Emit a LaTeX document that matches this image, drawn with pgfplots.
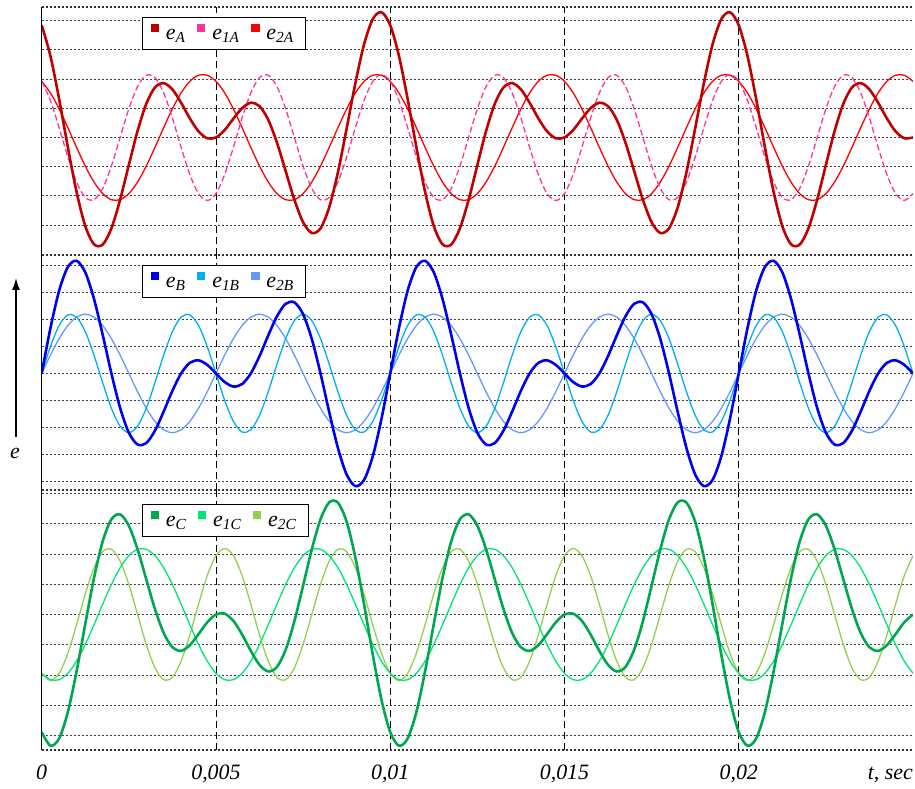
\documentclass[border=0pt]{standalone}
\usepackage{fontspec}
\setmainfont{Liberation Serif}
\usepackage{pgfplots}
\pgfplotsset{compat=1.18}
\usepackage{pgfplotstable}
\usetikzlibrary{arrows.meta}

\definecolor{cA}{HTML}{C00000}
\definecolor{cA1}{HTML}{FF3399}
\definecolor{cA2}{HTML}{FF0000}
\definecolor{cB}{HTML}{0000F0}
\definecolor{cB1}{HTML}{00B0F0}
\definecolor{cB2}{HTML}{6699FF}
\definecolor{cC}{HTML}{00A650}
\definecolor{cC1}{HTML}{00E676}
\definecolor{cC2}{HTML}{92D050}

% t in ms; e = e1 + e2
\pgfplotstableread{
t e e1 e2
0 1.782 0.891 0.891
0.25 1.295 0.588 0.707
0.5 0.610 0.156 0.454
0.75 -0.153 -0.309 0.156
1 -0.863 -0.707 -0.156
1.25 -1.405 -0.951 -0.454
1.5 -1.695 -0.988 -0.707
1.75 -1.700 -0.809 -0.891
2 -1.442 -0.454 -0.988
2.25 -0.988 0 -0.988
2.5 -0.437 0.454 -0.891
2.75 0.102 0.809 -0.707
3 0.534 0.988 -0.454
3.25 0.795 0.951 -0.156
3.5 0.863 0.707 0.156
3.75 0.763 0.309 0.454
4 0.551 -0.156 0.707
4.25 0.303 -0.588 0.891
4.5 0.097 -0.891 0.988
4.75 -0.012 -1 0.988
5 0 -0.891 0.891
5.25 0.119 -0.588 0.707
5.5 0.298 -0.156 0.454
5.75 0.465 0.309 0.156
6 0.551 0.707 -0.156
6.25 0.497 0.951 -0.454
6.5 0.281 0.988 -0.707
6.75 -0.082 0.809 -0.891
7 -0.534 0.454 -0.988
7.25 -0.988 0 -0.988
7.5 -1.345 -0.454 -0.891
7.75 -1.516 -0.809 -0.707
8 -1.442 -0.988 -0.454
8.25 -1.107 -0.951 -0.156
8.5 -0.551 -0.707 0.156
8.75 0.145 -0.309 0.454
9 0.863 0.156 0.707
9.25 1.479 0.588 0.891
9.5 1.879 0.891 0.988
9.75 1.988 1 0.988
10 1.782 0.891 0.891
10.25 1.295 0.588 0.707
10.5 0.610 0.156 0.454
10.75 -0.153 -0.309 0.156
11 -0.863 -0.707 -0.156
11.25 -1.405 -0.951 -0.454
11.5 -1.695 -0.988 -0.707
11.75 -1.700 -0.809 -0.891
12 -1.442 -0.454 -0.988
12.25 -0.988 0 -0.988
12.5 -0.437 0.454 -0.891
12.75 0.102 0.809 -0.707
13 0.534 0.988 -0.454
13.25 0.795 0.951 -0.156
13.5 0.863 0.707 0.156
13.75 0.763 0.309 0.454
14 0.551 -0.156 0.707
14.25 0.303 -0.588 0.891
14.5 0.097 -0.891 0.988
14.75 -0.012 -1 0.988
15 0 -0.891 0.891
15.25 0.119 -0.588 0.707
15.5 0.298 -0.156 0.454
15.75 0.465 0.309 0.156
16 0.551 0.707 -0.156
16.25 0.497 0.951 -0.454
16.5 0.281 0.988 -0.707
16.75 -0.082 0.809 -0.891
17 -0.534 0.454 -0.988
17.25 -0.988 0 -0.988
17.5 -1.345 -0.454 -0.891
17.75 -1.516 -0.809 -0.707
18 -1.442 -0.988 -0.454
18.25 -1.107 -0.951 -0.156
18.5 -0.551 -0.707 0.156
18.75 0.145 -0.309 0.454
19 0.863 0.156 0.707
19.25 1.479 0.588 0.891
19.5 1.879 0.891 0.988
19.75 1.988 1 0.988
20 1.782 0.891 0.891
20.25 1.295 0.588 0.707
20.5 0.610 0.156 0.454
20.75 -0.153 -0.309 0.156
21 -0.863 -0.707 -0.156
21.25 -1.405 -0.951 -0.454
21.5 -1.695 -0.988 -0.707
21.75 -1.700 -0.809 -0.891
22 -1.442 -0.454 -0.988
22.25 -0.988 0 -0.988
22.5 -0.437 0.454 -0.891
22.75 0.102 0.809 -0.707
23 0.534 0.988 -0.454
23.25 0.795 0.951 -0.156
23.5 0.863 0.707 0.156
23.75 0.763 0.309 0.454
24 0.551 -0.156 0.707
24.25 0.303 -0.588 0.891
24.5 0.097 -0.891 0.988
24.75 -0.012 -1 0.988
25 0 -0.891 0.891
}\tA

\pgfplotstableread{
t e e1 e2
0 0 0 0
0.25 0.763 0.454 0.309
0.5 1.397 0.809 0.588
0.75 1.797 0.988 0.809
1 1.902 0.951 0.951
1.25 1.707 0.707 1
1.5 1.260 0.309 0.951
1.75 0.653 -0.156 0.809
2 0 -0.588 0.588
2.25 -0.582 -0.891 0.309
2.5 -1 -1 0
2.75 -1.200 -0.891 -0.309
3 -1.176 -0.588 -0.588
3.25 -0.965 -0.156 -0.809
3.5 -0.642 0.309 -0.951
3.75 -0.293 0.707 -1
4 0 0.951 -0.951
4.25 0.179 0.988 -0.809
4.5 0.221 0.809 -0.588
4.75 0.145 0.454 -0.309
5 0 0 0
5.25 -0.145 -0.454 0.309
5.5 -0.221 -0.809 0.588
5.75 -0.179 -0.988 0.809
6 0 -0.951 0.951
6.25 0.293 -0.707 1
6.5 0.642 -0.309 0.951
6.75 0.965 0.156 0.809
7 1.176 0.588 0.588
7.25 1.200 0.891 0.309
7.5 1 1 0
7.75 0.582 0.891 -0.309
8 0 0.588 -0.588
8.25 -0.653 0.156 -0.809
8.5 -1.260 -0.309 -0.951
8.75 -1.707 -0.707 -1
9 -1.902 -0.951 -0.951
9.25 -1.797 -0.988 -0.809
9.5 -1.397 -0.809 -0.588
9.75 -0.763 -0.454 -0.309
10 0 0 0
10.25 0.763 0.454 0.309
10.5 1.397 0.809 0.588
10.75 1.797 0.988 0.809
11 1.902 0.951 0.951
11.25 1.707 0.707 1
11.5 1.260 0.309 0.951
11.75 0.653 -0.156 0.809
12 0 -0.588 0.588
12.25 -0.582 -0.891 0.309
12.5 -1 -1 0
12.75 -1.200 -0.891 -0.309
13 -1.176 -0.588 -0.588
13.25 -0.965 -0.156 -0.809
13.5 -0.642 0.309 -0.951
13.75 -0.293 0.707 -1
14 0 0.951 -0.951
14.25 0.179 0.988 -0.809
14.5 0.221 0.809 -0.588
14.75 0.145 0.454 -0.309
15 0 0 0
15.25 -0.145 -0.454 0.309
15.5 -0.221 -0.809 0.588
15.75 -0.179 -0.988 0.809
16 0 -0.951 0.951
16.25 0.293 -0.707 1
16.5 0.642 -0.309 0.951
16.75 0.965 0.156 0.809
17 1.176 0.588 0.588
17.25 1.200 0.891 0.309
17.5 1 1 0
17.75 0.582 0.891 -0.309
18 0 0.588 -0.588
18.25 -0.653 0.156 -0.809
18.5 -1.260 -0.309 -0.951
18.75 -1.707 -0.707 -1
19 -1.902 -0.951 -0.951
19.25 -1.797 -0.988 -0.809
19.5 -1.397 -0.809 -0.588
19.75 -0.763 -0.454 -0.309
20 0 0 0
20.25 0.763 0.454 0.309
20.5 1.397 0.809 0.588
20.75 1.797 0.988 0.809
21 1.902 0.951 0.951
21.25 1.707 0.707 1
21.5 1.260 0.309 0.951
21.75 0.653 -0.156 0.809
22 0 -0.588 0.588
22.25 -0.582 -0.891 0.309
22.5 -1 -1 0
22.75 -1.200 -0.891 -0.309
23 -1.176 -0.588 -0.588
23.25 -0.965 -0.156 -0.809
23.5 -0.642 0.309 -0.951
23.75 -0.293 0.707 -1
24 0 0.951 -0.951
24.25 0.179 0.988 -0.809
24.5 0.221 0.809 -0.588
24.75 0.145 0.454 -0.309
25 0 0 0
}\tB

\pgfplotstableread{
t e e1 e2
0 -1.782 -0.891 -0.891
0.25 -1.988 -0.988 -1
0.5 -1.879 -0.988 -0.891
0.75 -1.479 -0.891 -0.588
1 -0.863 -0.707 -0.156
1.25 -0.145 -0.454 0.309
1.5 0.551 -0.156 0.707
1.75 1.107 0.156 0.951
2 1.442 0.454 0.988
2.25 1.516 0.707 0.809
2.5 1.345 0.891 0.454
2.75 0.988 0.988 0
3 0.534 0.988 -0.454
3.25 0.082 0.891 -0.809
3.5 -0.281 0.707 -0.988
3.75 -0.497 0.454 -0.951
4 -0.551 0.156 -0.707
4.25 -0.465 -0.156 -0.309
4.5 -0.298 -0.454 0.156
4.75 -0.119 -0.707 0.588
5 0 -0.891 0.891
5.25 0.012 -0.988 1
5.5 -0.097 -0.988 0.891
5.75 -0.303 -0.891 0.588
6 -0.551 -0.707 0.156
6.25 -0.763 -0.454 -0.309
6.5 -0.863 -0.156 -0.707
6.75 -0.795 0.156 -0.951
7 -0.534 0.454 -0.988
7.25 -0.102 0.707 -0.809
7.5 0.437 0.891 -0.454
7.75 0.988 0.988 0
8 1.442 0.988 0.454
8.25 1.700 0.891 0.809
8.5 1.695 0.707 0.988
8.75 1.405 0.454 0.951
9 0.863 0.156 0.707
9.25 0.153 -0.156 0.309
9.5 -0.610 -0.454 -0.156
9.75 -1.295 -0.707 -0.588
10 -1.782 -0.891 -0.891
10.25 -1.988 -0.988 -1
10.5 -1.879 -0.988 -0.891
10.75 -1.479 -0.891 -0.588
11 -0.863 -0.707 -0.156
11.25 -0.145 -0.454 0.309
11.5 0.551 -0.156 0.707
11.75 1.107 0.156 0.951
12 1.442 0.454 0.988
12.25 1.516 0.707 0.809
12.5 1.345 0.891 0.454
12.75 0.988 0.988 0
13 0.534 0.988 -0.454
13.25 0.082 0.891 -0.809
13.5 -0.281 0.707 -0.988
13.75 -0.497 0.454 -0.951
14 -0.551 0.156 -0.707
14.25 -0.465 -0.156 -0.309
14.5 -0.298 -0.454 0.156
14.75 -0.119 -0.707 0.588
15 0 -0.891 0.891
15.25 0.012 -0.988 1
15.5 -0.097 -0.988 0.891
15.75 -0.303 -0.891 0.588
16 -0.551 -0.707 0.156
16.25 -0.763 -0.454 -0.309
16.5 -0.863 -0.156 -0.707
16.75 -0.795 0.156 -0.951
17 -0.534 0.454 -0.988
17.25 -0.102 0.707 -0.809
17.5 0.437 0.891 -0.454
17.75 0.988 0.988 0
18 1.442 0.988 0.454
18.25 1.700 0.891 0.809
18.5 1.695 0.707 0.988
18.75 1.405 0.454 0.951
19 0.863 0.156 0.707
19.25 0.153 -0.156 0.309
19.5 -0.610 -0.454 -0.156
19.75 -1.295 -0.707 -0.588
20 -1.782 -0.891 -0.891
20.25 -1.988 -0.988 -1
20.5 -1.879 -0.988 -0.891
20.75 -1.479 -0.891 -0.588
21 -0.863 -0.707 -0.156
21.25 -0.145 -0.454 0.309
21.5 0.551 -0.156 0.707
21.75 1.107 0.156 0.951
22 1.442 0.454 0.988
22.25 1.516 0.707 0.809
22.5 1.345 0.891 0.454
22.75 0.988 0.988 0
23 0.534 0.988 -0.454
23.25 0.082 0.891 -0.809
23.5 -0.281 0.707 -0.988
23.75 -0.497 0.454 -0.951
24 -0.551 0.156 -0.707
24.25 -0.465 -0.156 -0.309
24.5 -0.298 -0.454 0.156
24.75 -0.119 -0.707 0.588
25 0 -0.891 0.891
}\tC

\pgfplotsset{
  panel/.style={
    scale only axis, width=871.3bp,
    xmin=0, xmax=25,
    xtick={0,5,10,15,20}, xticklabel={\phantom{0}},
    yticklabel={\phantom{0}},
    tick style={draw=none},
    axis line style={draw=none},
    xmajorgrids, ymajorgrids,
    major x grid style={black, line width=0.8bp, dash pattern=on 7bp off 4bp},
    major y grid style={black!75, line width=0.8bp, dash pattern=on 2.5bp off 1.5bp},
    extra y ticks={0}, extra y tick labels={\phantom{0}},
    extra y tick style={major grid style={black, line width=0.8bp, dash pattern=on 8bp off 4bp}},
    clip mode=individual,
    legend columns=3,
    legend cell align=left,
    legend style={at={(axis description cs:0.1148,0.96)}, anchor=north west,
      draw=black, line width=0.8bp, fill=white,
      font=\fontsize{22}{24}\selectfont\itshape,
      inner xsep=8.5bp, inner ysep=6.5bp,
      nodes={inner xsep=3.5bp, inner ysep=2bp},
      /tikz/every even column/.append style={column sep=8bp}},
    legend image code/.code={\fill[##1] (0bp,3.5bp) rectangle (7.4bp,10.9bp);\path (11bp,0bp);},
  },
  comp/.style={line width=1.3bp, smooth, forget plot},
  sum/.style={line width=2.6bp, smooth, forget plot},
}

\begin{document}
\begin{tikzpicture}
\useasboundingbox (0,0) rectangle (915bp,789bp);

% --- panel A ---
\begin{axis}[panel, at={(41.7bp,534bp)}, anchor=south west, height=248bp,
  ymin=-1.865, ymax=2.071,
  ytick={-1.391,-0.927,-0.464,0.464,0.927,1.391,1.854}]
\addplot[comp, cA2] table[x=t,y=e2]{\tA};
\addplot[comp, cA1, dash pattern=on 6bp off 3bp] table[x=t,y=e1]{\tA};
\addplot[sum, cA] table[x=t,y=e]{\tA};
\addlegendimage{cA}
\addlegendimage{cA1}
\addlegendimage{cA2}
\legend{e\textsubscript{A}, e\textsubscript{1A}, e\textsubscript{2A}}
\draw[black!80, line width=1.1bp, dash pattern=on 2.5bp off 1.5bp] (rel axis cs:0,1) -- (rel axis cs:1,1);
\draw[black!80, line width=1.1bp, dash pattern=on 2.5bp off 1.5bp] (rel axis cs:0,0) -- (rel axis cs:1,0);
\draw[black, line width=1.3bp] (rel axis cs:0,0) -- (rel axis cs:0,1);
\end{axis}

% --- panel B ---
\begin{axis}[panel, at={(41.7bp,299bp)}, anchor=south west, height=235bp,
  ymin=-1.968, ymax=2.00,
  ytick={-1.818,-1.363,-0.909,-0.454,0.454,0.909,1.363,1.818},
  legend style={at={(axis description cs:0.1148,0.957)}}]
\addplot[comp, cB2] table[x=t,y=e2]{\tB};
\addplot[comp, cB1] table[x=t,y=e1]{\tB};
\addplot[sum, cB] table[x=t,y=e]{\tB};
\addlegendimage{cB}
\addlegendimage{cB1}
\addlegendimage{cB2}
\legend{e\textsubscript{B}, e\textsubscript{1B}, e\textsubscript{2B}}
\draw[black!80, line width=1.1bp, dash pattern=on 2.5bp off 1.5bp] (rel axis cs:0,0) -- (rel axis cs:1,0);
\draw[black, line width=1.3bp] (rel axis cs:0,0) -- (rel axis cs:0,1);
\end{axis}

% --- panel C ---
\begin{axis}[panel, at={(41.7bp,39bp)}, anchor=south west, height=260bp,
  ymin=-2.053, ymax=1.886,
  ytick={-1.833,-1.375,-0.917,-0.458,0.458,0.917,1.375,1.833},
  xticklabels={0,{0,005},{0,01},{0,015},{0,02}},
  xticklabel style={font=\fontsize{22}{24}\selectfont\itshape, anchor=base, yshift=-29bp},
  legend style={at={(axis description cs:0.1148,0.946)}}]
\addplot[comp, cC2] table[x=t,y=e2]{\tC};
\addplot[comp, cC1] table[x=t,y=e1]{\tC};
\addplot[sum, cC] table[x=t,y=e]{\tC};
\addlegendimage{cC}
\addlegendimage{cC1}
\addlegendimage{cC2}
\legend{e\textsubscript{C}, e\textsubscript{1C}, e\textsubscript{2C}}
\draw[black!80, line width=1.1bp, dash pattern=on 2.5bp off 1.5bp] (rel axis cs:0,0) -- (rel axis cs:1,0);
\draw[black, line width=1.3bp] (rel axis cs:0,0) -- (rel axis cs:0,1);
\end{axis}

% y label with arrow
\draw[black, line width=1.4bp, -{Latex[length=12bp,width=8bp]}] (16bp,352bp) -- (16bp,511bp);
\node[font=\fontsize{22}{24}\selectfont\itshape] at (15bp,336bp) {e};
% x unit label
\node[anchor=base east, font=\fontsize{22}{24}\selectfont\itshape, inner sep=0pt] at (913bp,10bp) {t, sec};
\end{tikzpicture}
\end{document}
